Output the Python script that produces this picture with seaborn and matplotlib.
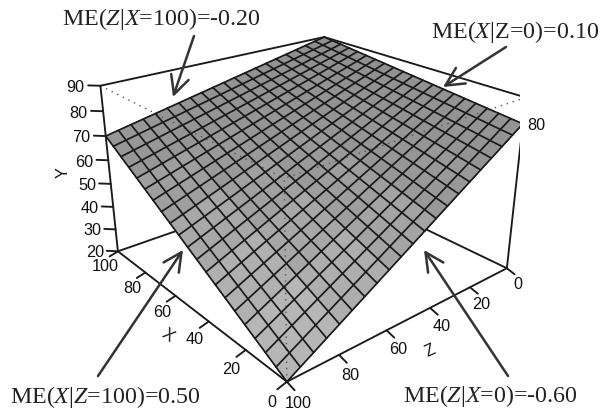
import matplotlib
matplotlib.use("Agg")
import matplotlib.pyplot as plt
import numpy as np
import seaborn as sns
from matplotlib.patches import FancyArrowPatch
from mpl_toolkits.mplot3d import proj3d

WIDTH, HEIGHT = 600, 414

# Y read at the axis ticks: rows are X, columns are Z
tick_x = [0, 20, 40, 60, 80, 100]
tick_z = [0, 20, 40, 60, 80, 100]
tick_y = [20, 30, 40, 50, 60, 70, 80, 90]
y_table = [
    [80, 68.0, 56.0, 44.0, 32.0, 20],
    [82, 71.6, 61.2, 50.8, 40.4, 30],
    [84, 75.2, 66.4, 57.6, 48.8, 40],
    [86, 78.8, 71.6, 64.4, 57.2, 50],
    [88, 82.4, 76.8, 71.2, 65.6, 60],
    [90, 86.0, 82.0, 78.0, 74.0, 70],
]

# mesh lines run straight between the values on the surface edges
mesh_pos = [0, 5, 10, 15, 20, 25, 30, 35, 40, 45, 50, 55, 60, 65, 70, 75, 80, 85, 90, 95, 100]
edge_z0 = [80, 80.5, 81, 81.5, 82, 82.5, 83, 83.5, 84, 84.5, 85, 85.5, 86, 86.5, 87, 87.5, 88, 88.5, 89, 89.5, 90]
edge_z100 = [20, 22.5, 25, 27.5, 30, 32.5, 35, 37.5, 40, 42.5, 45, 47.5, 50, 52.5, 55, 57.5, 60, 62.5, 65, 67.5, 70]
edge_x0 = [80, 77, 74, 71, 68, 65, 62, 59, 56, 53, 50, 47, 44, 41, 38, 35, 32, 29, 26, 23, 20]
edge_x100 = [90, 89, 88, 87, 86, 85, 84, 83, 82, 81, 80, 79, 78, 77, 76, 75, 74, 73, 72, 71, 70]

notes = [
    r"ME($\mathit{Z}$|$\mathit{X}$=100)=-0.20",
    r"ME($\mathit{X}$|Z=0)=0.10",
    r"ME($\mathit{X}$|$\mathit{Z}$=100)=0.50",
    r"ME($\mathit{Z}$|$\mathit{X}$=0)=-0.60",
]
note_xy = [(161, 19), (515.5, 32), (105, 397), (490.5, 396)]
arrow_tails = [(194, 37), (506, 48), (98, 377), (508, 377)]
arrow_heads = [(173, 98), (443, 88), (183, 251), (424, 251)]

sns.set_theme(style="white")
plt.rcParams["font.family"] = ["Liberation Sans", "DejaVu Sans"]
plt.rcParams["mathtext.fontset"] = "custom"
plt.rcParams["mathtext.rm"] = "Liberation Serif"
plt.rcParams["mathtext.it"] = "Liberation Serif:italic"

LINE = "#1a1a1a"
BOX_LW = 1.35
TICK_SIZE = 11.7


def fig_xy(x, y):
    return x / WIDTH, 1 - y / HEIGHT


fig = plt.figure(figsize=(WIDTH / 100, HEIGHT / 100), dpi=100)
ax = fig.add_axes([0, 0, 1, 1], projection="3d", computed_zorder=False)
ax.set_xlim(0, 100)
ax.set_ylim(0, 100)
ax.set_zlim(20, 90)
ax.set_proj_type("persp", focal_length=0.36)
ax.view_init(elev=24.19, azim=140.05)
ax.set_box_aspect((0.9986, 1, 0.6375))
ax.set_axis_off()

# camera scale and centre, in pixels
scale, centre_x, centre_y = 2347.1, 308.8, 233.7
view = ax.viewLim
ax.set_position([
    (centre_x + scale * view.x0) / WIDTH,
    (centre_y + scale * view.y0) / HEIGHT,
    scale * view.width / WIDTH,
    scale * view.height / HEIGHT,
])


def label(x, z, y, text):
    # place the text where the 3d point lands on the flat axes
    px, py, _ = proj3d.proj_transform(x, z, y, ax.get_proj())
    ax.text2D(px, py, text, transform=ax.transData, fontsize=TICK_SIZE,
              ha="center", va="center", color="#111111")


# back of the box, behind the surface
for x_a, z_a, y_a, x_b, z_b, y_b in [
    (100, 100, 90, 100, 0, 90),
    (100, 0, 90, 0, 0, 90),
    (100, 100, 20, 100, 0, 20),
    (0, 0, 20, 100, 0, 20),
]:
    ax.plot([x_a, x_b], [z_a, z_b], [y_a, y_b], color=LINE, lw=BOX_LW, zorder=1)

gx, gz = np.meshgrid(tick_x, tick_z, indexing="ij")
shades = sns.blend_palette(["#bebebe", "#adadad", "#979797", "#8f8f8f"], as_cmap=True)
ax.plot_surface(gx, gz, np.array(y_table), cmap=shades, vmin=20, vmax=90,
                linewidth=0, antialiased=False, shade=False, zorder=2)

# dotted edges of the box in front of the surface
for x_a, z_a, y_a in [(100, 100, 90), (0, 0, 90), (0, 100, 20)]:
    ax.plot([x_a, 0], [z_a, 100], [y_a, 90], color="#555555", lw=1.0,
            linestyle=(0, (1, 3.5)), zorder=3)

for i, pos in enumerate(mesh_pos):
    ax.plot([pos, pos], [0, 100], [edge_z0[i], edge_z100[i]], color=LINE, lw=1.25, zorder=4)
    ax.plot([0, 100], [pos, pos], [edge_x0[i], edge_x100[i]], color=LINE, lw=1.25, zorder=4)

# front of the box
for x_a, z_a, x_b, z_b in [(100, 100, 0, 100), (0, 0, 0, 100)]:
    ax.plot([x_a, x_b], [z_a, z_b], [20, 20], color=LINE, lw=BOX_LW, zorder=5)
for x_a, z_a in [(100, 100), (0, 0)]:
    ax.plot([x_a, x_a], [z_a, z_a], [20, 90], color=LINE, lw=BOX_LW, zorder=5)

for value in tick_y:
    ax.plot([100, 103], [100, 103], [value, value], color=LINE, lw=BOX_LW, zorder=5)
    label(106.2, 106.2, value - 0.7, str(value))
for value in tick_x:
    ax.plot([value, value], [100, 103.5], [20, 19], color=LINE, lw=BOX_LW, zorder=5)
    label(value, 105.5, 15.5, str(value))
for value in tick_z:
    ax.plot([0, -3.5], [value, value], [20, 19], color=LINE, lw=BOX_LW, zorder=5)
    label(-5.3, value, 15.6, str(value))

label(-3, -3, 80, "80")
fig.text(*fig_xy(63, 173), "Y", fontsize=TICK_SIZE, rotation=90, ha="center", va="center", color="#111111")
fig.text(*fig_xy(168, 335), "X", fontsize=TICK_SIZE, rotation=-35, ha="center", va="center", color="#111111")
fig.text(*fig_xy(430, 351), "Z", fontsize=TICK_SIZE, rotation=25, ha="center", va="center", color="#111111")

for note, (x, y) in zip(notes, note_xy):
    fig.text(*fig_xy(x, y), note, fontsize=17.3, family="Liberation Serif", ha="center", va="center", color="#222222")
for tail, head in zip(arrow_tails, arrow_heads):
    fig.add_artist(FancyArrowPatch(fig_xy(*tail), fig_xy(*head), transform=fig.transFigure,
                                   arrowstyle="->,head_length=0.6,head_width=0.3", mutation_scale=22,
                                   shrinkA=0, shrinkB=0, lw=1.8, color="#333333", zorder=10))

fig.savefig("out.png", dpi=100)
